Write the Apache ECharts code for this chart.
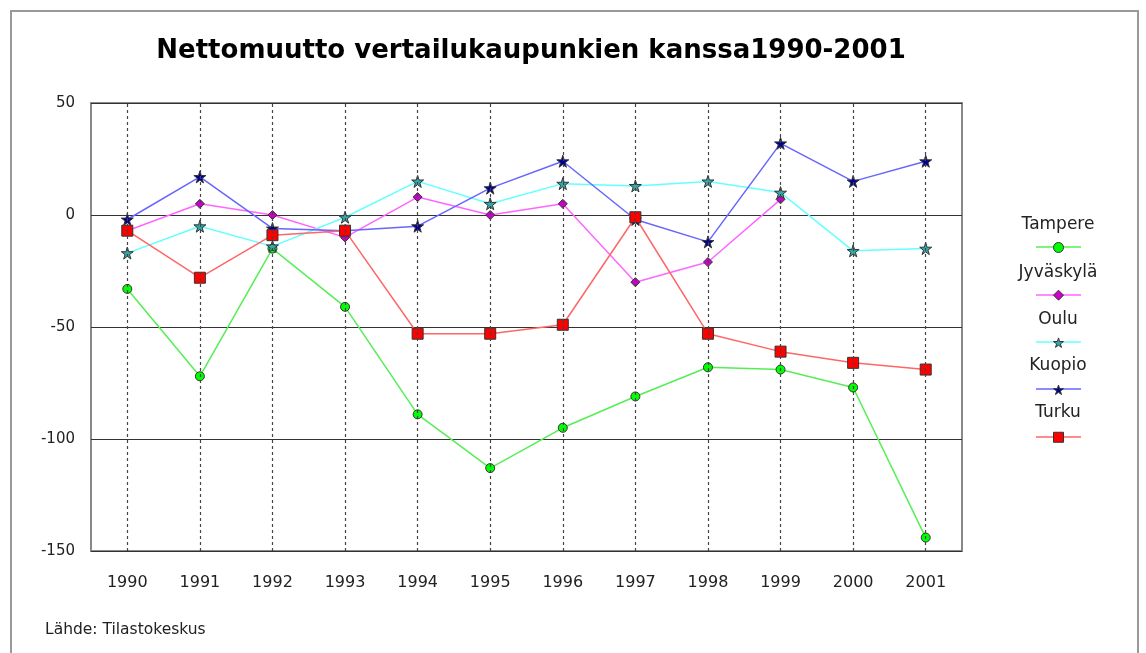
<!DOCTYPE html>
<html>
<head>
<meta charset="utf-8">
<script src="https://cdn.jsdelivr.net/npm/echarts@6/dist/echarts.min.js"></script>
<style>
  html, body { margin: 0; padding: 0; background: #fff; }
  #main { width: 1146px; height: 653px; }
</style>
</head>
<body>
<div id="main"></div>
<script>
const years = ['1990', '1991', '1992', '1993', '1994', '1995', '1996', '1997', '1998', '1999', '2000', '2001'];

const tampere = [-33, -72, -15, -41, -89, -113, -95, -81, -68, -69, -77, -144];
const jyvaskyla = [-7, 5, 0, -10, 8, 0, 5, -30, -21, 7, null, null];
const oulu = [-17, -5, -14, -1, 15, 5, 14, 13, 15, 10, -16, -15];
const kuopio = [-2, 17, -6, -7, -5, 12, 24, -2, -12, 32, 15, 24];
const turku = [-7, -28, -9, -7, -53, -53, -49, -1, -53, -61, -66, -69];

const names = ['Tampere', 'Jyväskylä', 'Oulu', 'Kuopio', 'Turku'];

const star = 'path://M50,0 L61,35 L98,35 L68,57 L79,91 L50,70 L21,91 L32,57 L2,35 L39,35 Z';
const font = '"DejaVu Sans", "Liberation Sans", Arial';

// line colour, marker fill, marker shape, marker size
const styles = [
  ['#55ee55', '#00ff00', 'circle', 9],
  ['#ff66ff', '#cc00cc', 'diamond', 9],
  ['#66ffff', '#33aaaa', star, 12],
  ['#6666ff', '#000099', star, 12],
  ['#ff6666', '#ff0000', 'rect', 11]
];

const values = [tampere, jyvaskyla, oulu, kuopio, turku];

const chart = echarts.init(document.getElementById('main'));

let series = names.map(function (n, i) {
  return {
    name: n,
    type: 'line',
    data: values[i],
    symbol: styles[i][2],
    symbolSize: styles[i][3],
    lineStyle: { color: styles[i][0], width: 1.5 },
    itemStyle: { color: styles[i][1], borderColor: '#333', borderWidth: 1 },
    emphasis: { disabled: true }
  };
});

// legend text and lines drawn by hand (name above, line + marker below)
let legend = [];
const textY = [225, 273, 320, 366, 413];
const iconY = [247, 295, 342, 389, 437];
names.forEach(function (n, i) {
  legend.push({
    type: 'text', x: 1058, y: textY[i],
    style: { text: n, fill: '#222', font: '17px ' + font, textAlign: 'center', textVerticalAlign: 'middle' }
  });
  legend.push({
    type: 'line', shape: { x1: 1036, y1: iconY[i], x2: 1081, y2: iconY[i] },
    style: { stroke: styles[i][0], lineWidth: 1.5 }
  });
});

let option = {
  animation: false,
  title: {
    text: 'Nettomuutto vertailukaupunkien kanssa1990-2001',
    left: 526,
    textAlign: 'center',
    top: 33,
    textStyle: { fontFamily: font, fontSize: 26, fontWeight: 'bold', color: '#000' }
  },
  legend: {
    orient: 'vertical',
    left: 1053,
    top: 242,
    padding: 0,
    itemGap: 36.7,
    itemWidth: 10,
    itemHeight: 10,
    data: names.map(function (n, i) {
      return {
        name: n,
        icon: styles[i][2],
        itemStyle: { color: styles[i][1], borderColor: '#333', borderWidth: 1 }
      };
    }),
    formatter: function () { return ''; },
    selectedMode: false,
    z: 10
  },
  grid: { left: 91, top: 103, width: 871, height: 448, show: true, borderColor: '#888', borderWidth: 2 },
  xAxis: {
    type: 'category',
    data: years,
    boundaryGap: true,
    axisLine: { show: false },
    axisTick: { show: false },
    axisLabel: { color: '#222', fontSize: 16, fontFamily: font, margin: 24, interval: 0 },
    splitLine: { show: false }
  },
  yAxis: {
    type: 'value',
    min: -150,
    max: 50,
    interval: 50,
    axisLine: { show: false },
    axisTick: { show: false },
    axisLabel: { color: '#222', fontSize: 15, fontFamily: font, margin: 16 },
    splitLine: { show: true, lineStyle: { color: '#333', width: 1.2 } }
  },
  series: series.concat([{
    // vertical dashed guides at each year
    type: 'bar',
    data: years.map(function () { return 0; }),
    barWidth: 0,
    silent: true,
    markLine: {
      silent: true,
      symbol: 'none',
      label: { show: false },
      lineStyle: { color: '#444', type: [3, 3], width: 1.2 },
      data: years.map(function (y) { return { xAxis: y }; })
    },
    z: 0
  }]),
  graphic: [
    {
      type: 'rect', shape: { x: 11, y: 11, width: 1127, height: 660 },
      style: { fill: 'none', stroke: '#999', lineWidth: 2 }, silent: true
    },
    {
      type: 'text', left: 45, top: 622,
      style: { text: 'Lähde: Tilastokeskus', fill: '#222', font: '15.5px ' + font }
    }
  ].concat(legend)
};

chart.setOption(option);
</script>
</body>
</html>
